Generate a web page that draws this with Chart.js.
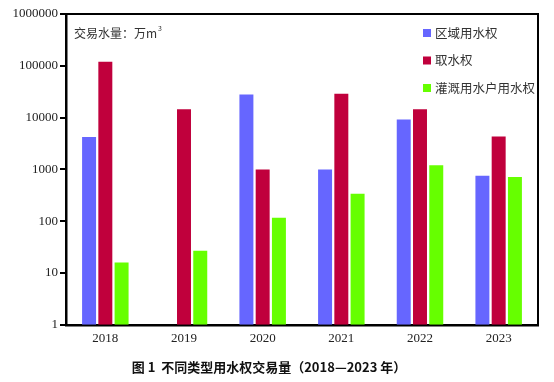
<!DOCTYPE html>
<html>
<head>
<meta charset="utf-8">
<script src="https://cdn.jsdelivr.net/npm/chart.js@4"></script>
<style>
  html, body { margin: 0; padding: 0; background: #fff; }
  #wrap { width: 554px; height: 382px; }
</style>
</head>
<body>
<div id="wrap"><canvas id="grafico"></canvas></div>
<script>
const years = ["2018", "2019", "2020", "2021", "2022", "2023"];
const quyu = [4200, null, 28000, 1000, 9200, 750];       // 区域用水权
const qushui = [120000, 14500, 1000, 29000, 14500, 4300]; // 取水权
const guangai = [16, 27, 117, 340, 1200, 710];           // 灌溉用水户用水权
const yTicks = [1, 10, 100, 1000, 10000, 100000, 1000000];

const serif = "'Liberation Serif', 'Times New Roman', serif";
const cjk = "'Noto Sans CJK SC', sans-serif";

// marco superior/derecho + leyenda y unidad dentro del área
const plugin_marco = {
  id: "marco",
  afterDraw: (chart) => {
    const { ctx, chartArea: a } = chart;
    ctx.save();
    ctx.strokeStyle = "#000";
    ctx.lineWidth = 2;
    ctx.beginPath();
    ctx.moveTo(a.left, a.top);
    ctx.lineTo(a.right, a.top);
    ctx.lineTo(a.right, a.bottom);
    ctx.stroke();

    // unidad
    ctx.fillStyle = "#333";
    ctx.font = "12px " + cjk;
    ctx.textBaseline = "middle";
    ctx.textAlign = "left";
    const unidad = "交易水量：万m";
    ctx.fillText(unidad, a.left + 8, a.top + 19);
    const w = ctx.measureText(unidad).width;
    ctx.font = "7px " + cjk;
    ctx.fillText("3", a.left + 8 + w + 1, a.top + 14);

    // leyenda
    ctx.font = "12.5px " + cjk;
    chart.data.datasets.forEach((ds, i) => {
      const y = a.top + 19 + i * 27.5;
      ctx.fillStyle = ds.backgroundColor;
      ctx.fillRect(423, y - 4, 8, 8);
      ctx.fillStyle = "#333";
      ctx.fillText(ds.label, 435, y);
    });
    ctx.restore();
  },
};

const ctx = document.getElementById("grafico").getContext("2d");
new Chart(ctx, {
  type: "bar",
  data: {
    labels: years,
    datasets: [
      { label: "区域用水权", data: quyu, backgroundColor: "#6666ff" },
      { label: "取水权", data: qushui, backgroundColor: "#c0003c" },
      { label: "灌溉用水户用水权", data: guangai, backgroundColor: "#66ff00" },
    ],
  },
  options: {
    responsive: true,
    maintainAspectRatio: false,
    animation: false,
    devicePixelRatio: 1,
    layout: { padding: { left: 0, right: 16, top: 14, bottom: 0 } },
    datasets: {
      bar: { barPercentage: 0.86, categoryPercentage: 0.62, borderWidth: 0 },
    },
    plugins: {
      legend: { display: false },
      tooltip: { enabled: false },
      title: {
        display: true,
        position: "bottom",
        text: "图 1  不同类型用水权交易量（2018—2023 年）",
        color: "#111",
        font: { family: cjk, size: 13, weight: "bold" },
        padding: { top: 7, bottom: 7 },
      },
    },
    scales: {
      x: {
        grid: { display: false, drawTicks: false },
        border: { color: "#000", width: 2.5 },
        ticks: { color: "#222", font: { family: serif, size: 13 }, padding: 6 },
      },
      y: {
        type: "logarithmic",
        min: 1,
        max: 1000000,
        afterBuildTicks: (scale) => {
          scale.ticks = yTicks.map((v) => ({ value: v }));
        },
        afterFit: (scale) => {
          scale.width = 66;
        },
        grid: {
          drawOnChartArea: false,
          drawTicks: true,
          tickLength: 6,
          color: "#000",
          lineWidth: 2,
        },
        border: { color: "#000", width: 2.5 },
        ticks: {
          color: "#222",
          font: { family: serif, size: 13 },
          padding: 2,
          callback: (v) => String(v),
        },
      },
    },
  },
  plugins: [plugin_marco],
});
</script>
</body>
</html>
